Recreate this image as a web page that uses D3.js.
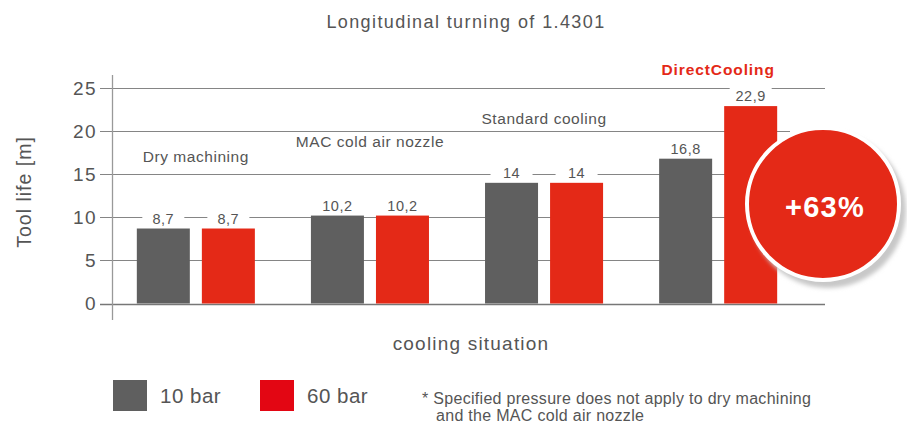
<!DOCTYPE html>
<html>
<head>
<meta charset="utf-8">
<script src="https://cdn.jsdelivr.net/npm/d3@7"></script>
<style>
  body { margin: 0; background: #fff; }
  svg { font-family: "Liberation Sans", Arial, sans-serif; }
</style>
</head>
<body>
<div id="chart"></div>
<script>
// chart data
const categories = ['Dry machining', 'MAC cold air nozzle', 'Standard cooling', 'DirectCooling'];
const series = ['10 bar', '60 bar'];
const bar10 = [8.7, 10.2, 14, 16.8];
const bar60 = [8.7, 10.2, 14, 22.9];
const valueLabels10 = ['8,7', '10,2', '14', '16,8'];
const valueLabels60 = ['8,7', '10,2', '14', '22,9'];
const yTicks = [0, 5, 10, 15, 20, 25];
const increase = '+63%';

const width = 907, height = 425;
const grey = '#5f5f5f', red = '#e42917', text = '#555';

const svg = d3.select('#chart').append('svg')
  .attr('width', width)
  .attr('height', height);

const defs = svg.append('defs');
const f = defs.append('filter').attr('id', 'shadow')
  .attr('x', '-20%').attr('y', '-20%').attr('width', '150%').attr('height', '150%');
f.append('feGaussianBlur').attr('stdDeviation', 2);

// scales
const x = d3.scaleBand()
  .domain(categories)
  .range([102, 812])
  .paddingInner(0.322)
  .paddingOuter(0.2);

const x1 = d3.scaleBand()
  .domain(series)
  .range([0, x.bandwidth()])
  .paddingInner(0.185);

const y = d3.scaleLinear()
  .domain([0, 25])
  .range([303.5, 88]);

// title
svg.append('text')
  .attr('x', 466).attr('y', 28)
  .attr('text-anchor', 'middle')
  .attr('font-size', 18).attr('letter-spacing', 1.4).attr('fill', text)
  .text('Longitudinal turning of 1.4301');

// gridlines + y axis
const yAxis = svg.append('g')
  .attr('transform', 'translate(97,0)')
  .call(d3.axisLeft(y).tickValues(yTicks).tickSize(0).tickPadding(0));
yAxis.select('.domain').remove();
yAxis.selectAll('text')
  .attr('font-size', 19).attr('letter-spacing', 1.4).attr('fill', text)
  .attr('font-family', '"Liberation Sans", Arial, sans-serif');

svg.append('g').selectAll('line')
  .data(yTicks)
  .join('line')
  .attr('x1', 100)
  .attr('x2', d => d === 20 ? 790 : 825)
  .attr('y1', d => Math.round(y(d)) + 0.5)
  .attr('y2', d => Math.round(y(d)) + 0.5)
  .attr('stroke', d => d === 0 ? '#777' : '#858585')
  .attr('stroke-width', d => d === 0 ? 1.5 : 1.2);

svg.append('line')
  .attr('x1', 112.5).attr('x2', 112.5)
  .attr('y1', 75).attr('y2', 320)
  .attr('stroke', '#999').attr('stroke-width', 1.3);

svg.append('text')
  .attr('transform', 'translate(31,' + 192 + ') rotate(-90)')
  .attr('text-anchor', 'middle')
  .attr('font-size', 19.5).attr('letter-spacing', 1).attr('fill', text)
  .text('Tool life [m]');

// category labels sit like a staircase above the groups
const labelLevels = [16.4, 18.1, 20.8, 26.5];
svg.append('g').selectAll('text')
  .data(categories)
  .join('text')
  .attr('x', d => x(d) + x.bandwidth() / 2)
  .attr('y', (d, i) => y(labelLevels[i]))
  .attr('text-anchor', 'middle')
  .attr('font-size', 15.5)
  .attr('letter-spacing', (d, i) => i === 3 ? 0.9 : 0.55)
  .attr('font-weight', (d, i) => i === 3 ? 'bold' : 'normal')
  .attr('fill', (d, i) => i === 3 ? red : text)
  .text(d => d);

// bars
const rows = [];
categories.forEach((c, i) => {
  rows.push({ cat: c, s: series[0], v: bar10[i], label: valueLabels10[i], color: grey });
  rows.push({ cat: c, s: series[1], v: bar60[i], label: valueLabels60[i], color: red });
});

const bars = svg.append('g');
// value labels with white background cutting the gridlines
const lbl = bars.selectAll('g.vl')
  .data(rows)
  .join('g')
  .attr('class', 'vl');
lbl.append('rect')
  .attr('x', d => x(d.cat) + x1(d.s) + x1.bandwidth() / 2 - 21)
  .attr('y', d => y(d.v) - 19)
  .attr('width', 42)
  .attr('height', 17)
  .attr('fill', '#fff');
lbl.append('text')
  .attr('x', d => x(d.cat) + x1(d.s) + x1.bandwidth() / 2)
  .attr('y', d => y(d.v) - 5)
  .attr('text-anchor', 'middle')
  .attr('font-size', 14.5).attr('letter-spacing', 0.5).attr('fill', text)
  .text(d => d.label);

bars.selectAll('rect.bar')
  .data(rows)
  .join('rect')
  .attr('class', 'bar')
  .attr('x', d => x(d.cat) + x1(d.s))
  .attr('y', d => y(d.v))
  .attr('width', x1.bandwidth())
  .attr('height', d => y(0) - y(d.v))
  .attr('fill', d => d.color);

// +63% badge
const cx = 823, cy = 204;
svg.append('circle')
  .attr('cx', cx + 5).attr('cy', cy + 6).attr('r', 78)
  .attr('fill', '#c8c8c8')
  .attr('filter', 'url(#shadow)');
svg.append('circle')
  .attr('cx', cx).attr('cy', cy).attr('r', 76)
  .attr('fill', red)
  .attr('stroke', '#fff').attr('stroke-width', 4);
svg.append('text')
  .attr('x', cx + 2).attr('y', cy + 13)
  .attr('text-anchor', 'middle')
  .attr('font-size', 29).attr('font-weight', 'bold').attr('letter-spacing', 1.2).attr('fill', '#fff')
  .text(increase);

// x axis title
svg.append('text')
  .attr('x', 471).attr('y', 350)
  .attr('text-anchor', 'middle')
  .attr('font-size', 19).attr('letter-spacing', 1.2).attr('fill', text)
  .text('cooling situation');

// legend
const legend = svg.append('g');
const legendX = [113, 260];
series.forEach((s, i) => {
  legend.append('rect')
    .attr('x', legendX[i]).attr('y', 380)
    .attr('width', 34).attr('height', 31)
    .attr('fill', i === 0 ? grey : '#e30613');
  legend.append('text')
    .attr('x', legendX[i] + 47).attr('y', 403)
    .attr('font-size', 20.5).attr('letter-spacing', 0.5).attr('fill', text)
    .text(s);
});

const note = svg.append('text')
  .attr('font-size', 16).attr('letter-spacing', 0.3).attr('fill', text);
note.append('tspan').attr('x', 422).attr('y', 404)
  .text('* Specified pressure does not apply to dry machining');
note.append('tspan').attr('x', 436).attr('y', 421)
  .text('and the MAC cold air nozzle');
</script>
</body>
</html>
